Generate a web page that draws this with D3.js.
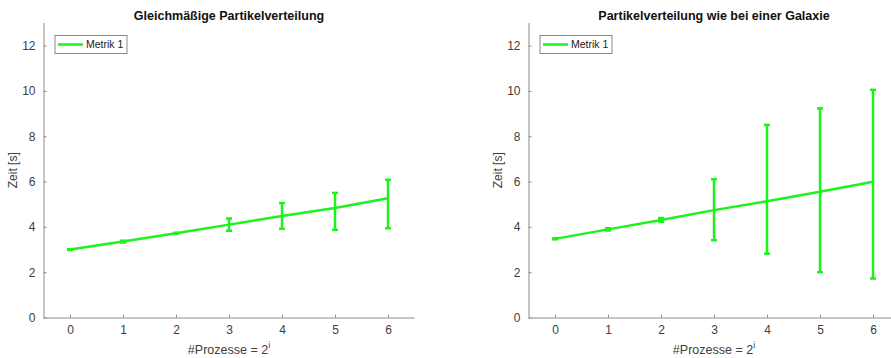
<!DOCTYPE html>
<html>
<head>
<meta charset="utf-8">
<script src="https://cdn.jsdelivr.net/npm/d3@7"></script>
<style>
  body { margin: 0; background: #fff; }
  svg { display: block; font-family: "Liberation Sans", Arial, sans-serif; }
</style>
</head>
<body>
<svg id="chart" width="891" height="358"></svg>
<script>
// Exponent i of the process count (#processes = 2^i)
const exponents = [0, 1, 2, 3, 4, 5, 6];
const yTicks = [0, 2, 4, 6, 8, 10, 12];

// Uniform particle distribution: mean time and error bar bounds [s]
const uniformMean  = [3.00, 3.35, 3.72, 4.10, 4.48, 4.83, 5.26];
const uniformLower = [2.98, 3.31, 3.70, 3.83, 3.92, 3.87, 3.94];
const uniformUpper = [3.02, 3.39, 3.74, 4.37, 5.05, 5.50, 6.08];

// Galaxy-like particle distribution: mean time and error bar bounds [s]
const galaxyMean  = [3.47, 3.89, 4.30, 4.74, 5.13, 5.55, 5.99];
const galaxyLower = [3.45, 3.84, 4.22, 3.41, 2.82, 2.00, 1.72];
const galaxyUpper = [3.49, 3.94, 4.39, 6.10, 8.50, 9.23, 10.05];

const panelTitles = ["Gleichmäßige Partikelverteilung", "Partikelverteilung wie bei einer Galaxie"];
const seriesName = "Metrik 1";

const green = "#1cf21c";
const axisColor = "#8a8a8a";
const textColor = "#404040";

const svg = d3.select("#chart");

const panels = [
  { title: panelTitles[0], mean: uniformMean, lo: uniformLower, hi: uniformUpper, left: 43.5, right: 414.5 },
  { title: panelTitles[1], mean: galaxyMean,  lo: galaxyLower,  hi: galaxyUpper,  left: 528.5, right: 899.5 }
];

const plotTop = 23, plotBottom = 317.5;

panels.forEach(p => {
  const x = d3.scaleLinear().domain([-0.5, 6.5]).range([p.left, p.right]);
  const y = d3.scaleLinear().domain([0, 13]).range([plotBottom, plotTop]);
  const g = svg.append("g");

  // y axis (ticks pointing inward)
  const yAxis = g.append("g")
    .attr("transform", `translate(${p.left},0)`)
    .call(d3.axisLeft(y).tickValues(yTicks).tickFormat(d3.format("d")).tickSize(-3).tickPadding(8));
  // x axis
  const xAxis = g.append("g")
    .attr("transform", `translate(0,${plotBottom})`)
    .call(d3.axisBottom(x).tickValues(exponents).tickFormat(d3.format("d")).tickSize(-3).tickPadding(8));

  [yAxis, xAxis].forEach(a => {
    a.select(".domain").attr("stroke", axisColor).attr("stroke-width", 1);
    a.selectAll(".tick line").attr("stroke", axisColor);
    a.selectAll(".tick text").attr("fill", textColor).style("font-size", "12px");
  });
  yAxis.select(".domain").attr("d", `M0.5,${plotBottom}V${plotTop}`);
  xAxis.select(".domain").attr("d", `M${p.left},0.5H${p.right}`);

  // title
  g.append("text")
    .attr("x", (p.left + p.right) / 2).attr("y", 20)
    .attr("text-anchor", "middle")
    .style("font-size", "12.5px").style("font-weight", "bold")
    .attr("fill", "#111")
    .text(p.title);

  // y label
  g.append("text")
    .attr("transform", `translate(${p.left - 27},${(plotTop + plotBottom) / 2}) rotate(-90)`)
    .attr("text-anchor", "middle")
    .style("font-size", "12px").attr("fill", textColor)
    .text("Zeit [s]");

  // x label
  const xl = g.append("text")
    .attr("x", (p.left + p.right) / 2).attr("y", 354)
    .attr("text-anchor", "middle")
    .style("font-size", "12.5px").attr("fill", textColor);
  xl.append("tspan").text("#Prozesse = 2");
  xl.append("tspan").attr("dy", -6).style("font-size", "9px").text("i");

  // line through the means
  const line = d3.line().x((d, i) => x(exponents[i])).y(d => y(d));
  g.append("path")
    .datum(p.mean)
    .attr("d", line)
    .attr("fill", "none").attr("stroke", green).attr("stroke-width", 2.5);

  // error bars
  const eb = g.selectAll(".eb").data(exponents).enter().append("g");
  eb.append("line")
    .attr("x1", d => x(d)).attr("x2", d => x(d))
    .attr("y1", (d, i) => y(p.lo[i])).attr("y2", (d, i) => y(p.hi[i]))
    .attr("stroke", green).attr("stroke-width", 2.5);
  ["lo", "hi"].forEach(k => {
    eb.append("line")
      .attr("x1", d => x(d) - 3).attr("x2", d => x(d) + 3)
      .attr("y1", (d, i) => y(p[k][i])).attr("y2", (d, i) => y(p[k][i]))
      .attr("stroke", green).attr("stroke-width", 2.5);
  });

  // legend
  const lx = p.left + 11.5, ly = 35.5;
  g.append("rect")
    .attr("x", lx).attr("y", ly).attr("width", 72).attr("height", 18)
    .attr("fill", "#fff").attr("stroke", "#8a8a8a").attr("stroke-width", 1);
  g.append("line")
    .attr("x1", lx + 3).attr("x2", lx + 28).attr("y1", ly + 9).attr("y2", ly + 9)
    .attr("stroke", green).attr("stroke-width", 2.5);
  g.append("text")
    .attr("x", lx + 31).attr("y", ly + 12.5)
    .style("font-size", "10.5px").attr("fill", "#222")
    .text(seriesName);
});
</script>
</body>
</html>
